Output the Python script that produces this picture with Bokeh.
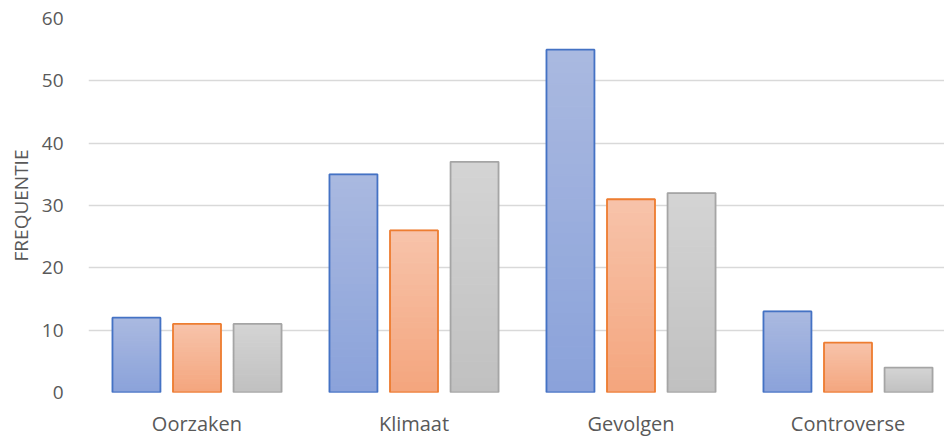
from bokeh.plotting import figure
from bokeh.models import FixedTicker, Range1d, ColumnDataSource
from bokeh.embed import file_html
from bokeh.resources import INLINE

categories = ["Oorzaken", "Klimaat", "Gevolgen", "Controverse"]
series_a = [12, 35, 55, 13]
series_b = [11, 26, 31, 8]
series_c = [11, 37, 32, 4]
y_ticks = [0, 10, 20, 30, 40, 50, 60]

series = [
    (series_a, -0.279, "#4472C4", (0x8A, 0xA2, 0xDA), (0xAA, 0xB9, 0xE0)),
    (series_b, 0.0, "#ED7D31", (0xF4, 0xA5, 0x7D), (0xF7, 0xC3, 0xAA)),
    (series_c, 0.279, "#A5A5A5", (0xC0, 0xC0, 0xC0), (0xD4, 0xD4, 0xD4)),
]

plot_w = 944
left = 88
cat_px = 217.0
x_end = (plot_w - left) / cat_px

p = figure(width=plot_w, height=439, output_backend="svg", toolbar_location=None,
           x_range=Range1d(0, x_end), y_range=Range1d(0, 60),
           min_border_left=left, min_border_right=0, min_border_top=18,
           min_border_bottom=47)
p.outline_line_color = None
p.background_fill_color = "white"
p.border_fill_color = "white"

bar_w = 0.221
K = 30


def hexc(c):
    return "#%02x%02x%02x" % tuple(int(round(v)) for v in c)


for vals, off, line_col, c_bot, c_top in series:
    xs, bots, tops, cols = [], [], [], []
    for i, v in enumerate(vals):
        for k in range(K):
            t = (k + 0.5) / K
            col = tuple(c_bot[j] + (c_top[j] - c_bot[j]) * t for j in range(3))
            xs.append(i + 0.5 + off)
            bots.append(v * k / K)
            tops.append(v * (k + 1) / K)
            cols.append(hexc(col))
    src = ColumnDataSource(dict(x=xs, bottom=bots, top=tops, color=cols))
    p.vbar(x="x", bottom="bottom", top="top", width=bar_w, source=src,
           fill_color="color", line_color="color", line_width=1.2)
    src2 = ColumnDataSource(dict(x=[i + 0.5 + off for i in range(len(vals))], top=vals))
    p.vbar(x="x", bottom=0, top="top", width=bar_w, source=src2,
           fill_color=None, line_color=line_col, line_width=1.8)

# axes
p.xaxis.ticker = FixedTicker(ticks=[i + 0.5 for i in range(len(categories))])
p.xaxis.major_label_overrides = {i + 0.5: c for i, c in enumerate(categories)}
p.xaxis.axis_line_color = None
p.xaxis.major_tick_line_color = None
p.xaxis.minor_tick_line_color = None
p.xaxis.major_label_text_font = "Open Sans"
p.xaxis.major_label_text_font_size = "20px"
p.xaxis.major_label_text_color = "#595959"
p.xaxis.major_label_standoff = 11

p.yaxis.ticker = FixedTicker(ticks=y_ticks)
p.yaxis.axis_line_color = None
p.yaxis.major_tick_line_color = None
p.yaxis.minor_tick_line_color = None
p.yaxis.major_label_text_font = "Open Sans"
p.yaxis.major_label_text_font_size = "19px"
p.yaxis.major_label_text_color = "#595959"
p.yaxis.major_label_standoff = 19
p.yaxis.axis_label = "FREQUENTIE"
p.yaxis.axis_label_text_font = "Open Sans"
p.yaxis.axis_label_text_font_style = "normal"
p.yaxis.axis_label_text_font_size = "19px"
p.yaxis.axis_label_text_color = "#595959"
p.yaxis.axis_label_standoff = 5

p.xgrid.grid_line_color = None
p.ygrid.grid_line_color = "#D9D9D9"
p.ygrid.grid_line_width = 1.3
p.ygrid.level = "underlay"

open("out.html", "w").write(file_html(p, INLINE))
